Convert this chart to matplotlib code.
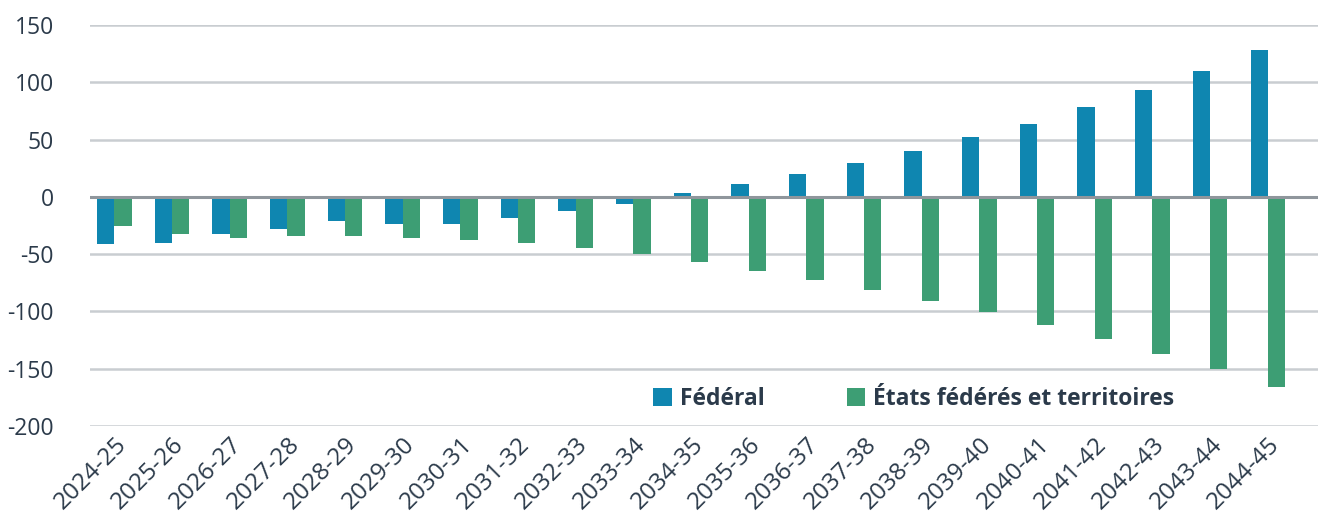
import matplotlib
matplotlib.use("Agg")
import matplotlib.pyplot as plt
import numpy as np

categories = ["2024-25", "2025-26", "2026-27", "2027-28", "2028-29", "2029-30", "2030-31",
              "2031-32", "2032-33", "2033-34", "2034-35", "2035-36", "2036-37", "2037-38",
              "2038-39", "2039-40", "2040-41", "2041-42", "2042-43", "2043-44", "2044-45"]
federal = [-41, -40, -32.5, -28, -21, -24, -24, -18.5, -12.5, -6.5, 3, 11, 20, 29.5, 40,
           52, 64, 78, 93, 109.5, 128]
etats = [-25.5, -32.5, -36, -34.5, -34.5, -36, -38, -40.5, -45, -50, -57, -65, -73, -81.5,
         -91, -100.5, -112, -124, -137, -150, -166]
series_names = ["Fédéral", "États fédérés et territoires"]
yticks = [-200, -150, -100, -50, 0, 50, 100, 150]

blue = "#0f86b0"
green = "#3d9e74"
text_col = "#2b3a4a"
fam = ["Open Sans", "DejaVu Sans"]

fig = plt.figure(figsize=(13.2, 5.27), dpi=100)
ax = fig.add_axes([90/1320, 1-426/527, (1318-90)/1320, (426-25)/527])

x = np.arange(len(categories))
w = 0.3
ax.bar(x - w/2, federal, width=w, color=blue, label=series_names[0], zorder=3)
ax.bar(x + w/2, etats, width=w, color=green, label=series_names[1], zorder=3)

ax.set_ylim(-200, 150)
ax.set_xlim(-0.42, 20.87)
ax.set_yticks(yticks)
ax.set_yticklabels([str(v) for v in yticks], fontsize=16.5, color=text_col,
                   family=fam, fontweight="normal")
for v in yticks:
    if v == 0:
        ax.axhline(v, color="#8f969c", lw=2.2, zorder=4)
    else:
        ax.axhline(v, color="#c9cdd1", lw=1.8, zorder=1)

ax.set_xticks(x)
ax.set_xticklabels(categories, rotation=45, ha="right", rotation_mode="anchor",
                   fontsize=17.5, color=text_col, family=fam, fontweight="normal")
ax.tick_params(axis="both", length=0)
ax.tick_params(axis="y", pad=26)
ax.tick_params(axis="x", pad=5)
for s in ax.spines.values():
    s.set_visible(False)

leg = ax.legend(loc="center", frameon=False,
                ncol=2, handlelength=0.8, handleheight=0.8, handletextpad=0.35,
                columnspacing=3.6, prop={"family": fam, "weight": "bold", "size": 16.5})
leg.set_bbox_to_anchor((914/1320, 1-399/527), transform=fig.transFigure)
for t in leg.get_texts():
    t.set_color(text_col)

fig.savefig("out.png", dpi=100)
